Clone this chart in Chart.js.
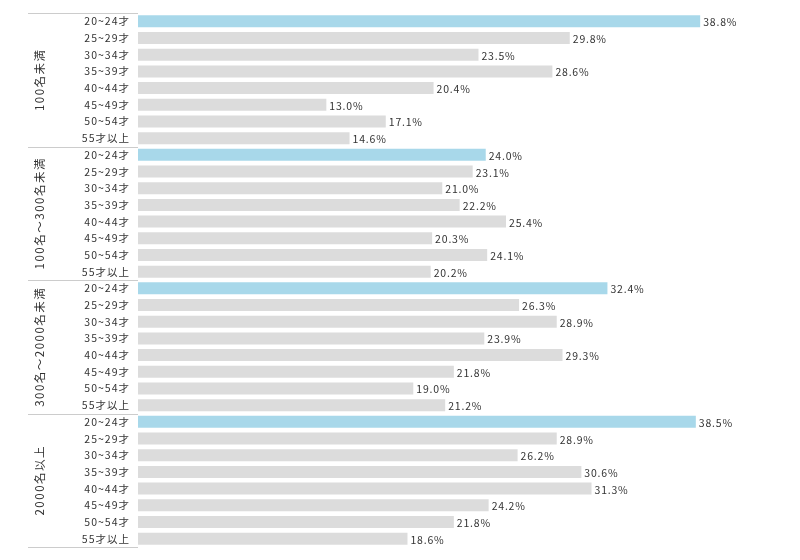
<!DOCTYPE html>
<html>
<head>
<meta charset="utf-8">
<script src="https://cdn.jsdelivr.net/npm/chart.js@4"></script>
<style>
  html, body { margin: 0; padding: 0; background: #fff; }
  #wrap { width: 800px; height: 560px; }
</style>
</head>
<body>
<div id="wrap"><canvas id="chart" width="800" height="560"></canvas></div>
<script>
// company size groups
const groups = ['100名未満', '100名～300名未満', '300名～2000名未満', '2000名以上'];
const ages = ['20~24才', '25~29才', '30~34才', '35~39才', '40~44才', '45~49才', '50~54才', '55才以上'];

const under100 = [38.8, 29.8, 23.5, 28.6, 20.4, 13.0, 17.1, 14.6];
const from100to300 = [24.0, 23.1, 21.0, 22.2, 25.4, 20.3, 24.1, 20.2];
const from300to2000 = [32.4, 26.3, 28.9, 23.9, 29.3, 21.8, 19.0, 21.2];
const over2000 = [38.5, 28.9, 26.2, 30.6, 31.3, 24.2, 21.8, 18.6];

const seriesByGroup = [under100, from100to300, from300to2000, over2000];

const FONT = '"Noto Sans CJK JP", "Noto Sans", sans-serif';
const BLUE = '#a8d8ea';
const GRAY = '#dcdcdc';

const labels = [];
const values = [];
const colors = [];
seriesByGroup.forEach(vals => {
  vals.forEach((v, i) => {
    labels.push(ages[i]);
    values.push(v);
    colors.push(i === 0 ? BLUE : GRAY);
  });
});

const groupPlugin = {
  id: 'groupPlugin',
  beforeDraw(chart) {
    chart.ctx.letterSpacing = '1px';
  },
  afterDatasetsDraw(chart) {
    const { ctx, chartArea } = chart;
    const y = chart.scales.y;
    const meta = chart.getDatasetMeta(0);
    const step = (y.getPixelForValue(1) - y.getPixelForValue(0));

    // value labels
    ctx.save();
    ctx.letterSpacing = '0.8px';
    ctx.font = '10.5px ' + FONT;
    ctx.fillStyle = '#333';
    ctx.textAlign = 'left';
    ctx.textBaseline = 'middle';
    meta.data.forEach((bar, i) => {
      ctx.fillText(values[i].toFixed(1) + '%', bar.x + 3, bar.y + 1);
    });

    // separators and group names
    ctx.strokeStyle = '#cccccc';
    ctx.lineWidth = 1;
    for (let g = 0; g <= groups.length; g++) {
      const py = Math.round(y.getPixelForValue(g * ages.length) - step / 2) + 0.5;
      ctx.beginPath();
      ctx.moveTo(28, py);
      ctx.lineTo(chartArea.left, py);
      ctx.stroke();
    }
    ctx.letterSpacing = '1.5px';
    ctx.font = '11.5px ' + FONT;
    ctx.fillStyle = '#333';
    ctx.textAlign = 'center';
    groups.forEach((name, g) => {
      const top = y.getPixelForValue(g * ages.length) - step / 2;
      const bottom = y.getPixelForValue((g + 1) * ages.length - 1) + step / 2;
      ctx.save();
      ctx.translate(40, (top + bottom) / 2);
      ctx.rotate(-Math.PI / 2);
      ctx.fillText(name, 0, 0);
      ctx.restore();
    });
    ctx.restore();
  }
};

new Chart(document.getElementById('chart'), {
  type: 'bar',
  data: {
    labels: labels,
    datasets: [{
      data: values,
      backgroundColor: colors,
      barPercentage: 0.72,
      categoryPercentage: 1
    }]
  },
  options: {
    indexAxis: 'y',
    responsive: false,
    animation: false,
    layout: { padding: { top: 13, bottom: 13, right: 10, left: 0 } },
    plugins: {
      legend: { display: false },
      tooltip: { enabled: false }
    },
    scales: {
      x: {
        display: false,
        min: 0,
        max: 45
      },
      y: {
        afterFit(scale) { scale.width = 138; },
        grid: { display: false },
        border: { display: false },
        ticks: {
          autoSkip: false,
          padding: 0,
          color: '#333',
          font: { size: 10.5, family: FONT }
        }
      }
    }
  },
  plugins: [groupPlugin]
});
</script>
</body>
</html>
